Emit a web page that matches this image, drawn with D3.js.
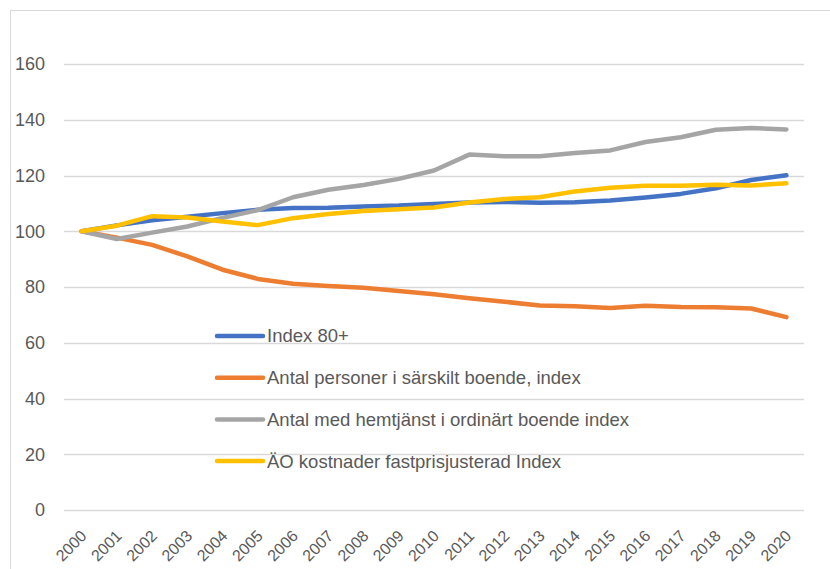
<!DOCTYPE html>
<html>
<head>
<meta charset="utf-8">
<script src="https://cdn.jsdelivr.net/npm/d3@7"></script>
<style>
  body { margin: 0; background: #fff; }
  text { font-family: "Liberation Sans", Arial, sans-serif; fill: #595959; }
</style>
</head>
<body>
<div id="chart"></div>
<script>
const svgWidth = 830;
const svgHeight = 569;

// Data
const years = ['2000', '2001', '2002', '2003', '2004', '2005', '2006', '2007', '2008', '2009', '2010',
  '2011', '2012', '2013', '2014', '2015', '2016', '2017', '2018', '2019', '2020'];
const index80 = [100, 102.1, 103.9, 105.2, 106.5, 107.7, 108.3, 108.4, 108.9, 109.2, 109.8,
  110.3, 110.5, 110.2, 110.4, 111.0, 112.1, 113.4, 115.4, 118.4, 120.1];
const sarskiltBoende = [100, 97.7, 95.1, 91.0, 86.2, 82.9, 81.2, 80.4, 79.7, 78.6, 77.4,
  76.0, 74.7, 73.4, 73.1, 72.5, 73.3, 72.8, 72.7, 72.3, 69.2];
const hemtjanst = [100, 97.2, 99.5, 101.7, 104.8, 107.6, 112.2, 114.9, 116.6, 118.8, 121.8,
  127.5, 126.9, 126.9, 128.1, 129.0, 132.0, 133.7, 136.4, 137.0, 136.5];
const aoKostnader = [100, 102.0, 105.4, 104.9, 103.5, 102.2, 104.7, 106.2, 107.3, 107.9, 108.5,
  110.3, 111.6, 112.2, 114.3, 115.6, 116.3, 116.3, 116.7, 116.4, 117.2];
const yTicks = [0, 20, 40, 60, 80, 100, 120, 140, 160];

const seriesNames = ['Index 80+', 'Antal personer i särskilt boende, index',
  'Antal med hemtjänst i ordinärt boende index', 'ÄO kostnader fastprisjusterad Index'];
const seriesColors = ['#4472C4', '#ED7D31', '#A5A5A5', '#FFC000'];
const series = [index80, sarskiltBoende, hemtjanst, aoKostnader];

const margin = { top: 64, right: 26, bottom: 59, left: 64 };
const chartWidth = svgWidth - margin.left - margin.right;
const chartHeight = svgHeight - margin.top - margin.bottom;

const svg = d3.select('#chart').append('svg').attr('width', svgWidth).attr('height', svgHeight);

// chart border
svg.append('rect')
  .attr('x', 10.5).attr('y', 10.5)
  .attr('width', svgWidth + 20).attr('height', svgHeight + 20)
  .attr('fill', 'none').attr('stroke', '#d9d9d9').attr('stroke-width', 1);

const g = svg.append('g').attr('transform', `translate(${margin.left},${margin.top})`);

const xScale = d3.scaleBand().domain(years).range([0, chartWidth]);
const yScale = d3.scaleLinear().domain([0, 160]).range([chartHeight, 0]);
const xPos = d => xScale(d) + xScale.bandwidth() / 2;

// gridlines
g.append('g')
  .selectAll('line')
  .data(yTicks)
  .enter()
  .append('line')
  .attr('x1', 0).attr('x2', chartWidth)
  .attr('y1', d => Math.round(yScale(d)) + 0.5)
  .attr('y2', d => Math.round(yScale(d)) + 0.5)
  .attr('stroke', '#d9d9d9')
  .attr('stroke-width', 1.3);

// y axis labels
const yAxis = g.append('g').call(d3.axisLeft(yScale).tickValues(yTicks).tickSize(0).tickPadding(19));
yAxis.select('.domain').remove();
yAxis.selectAll('text').style('font-size', '18px').attr('fill', '#595959')
  .style('font-family', '"Liberation Sans", Arial, sans-serif');

// x axis labels, rotated
const xAxis = g.append('g')
  .attr('transform', `translate(0,${chartHeight})`)
  .call(d3.axisBottom(xScale).tickSize(0));
xAxis.select('.domain').remove();
xAxis.selectAll('text')
  .attr('fill', '#595959')
  .style('font-size', '16px')
  .style('font-family', '"Liberation Sans", Arial, sans-serif')
  .attr('text-anchor', 'end')
  .attr('dy', null)
  .attr('y', 0)
  .attr('transform', 'translate(6,27) rotate(-45)');

// lines
const line = d3.line()
  .x((d, i) => xPos(years[i]))
  .y(d => yScale(d));

g.selectAll('path.series')
  .data(series)
  .enter()
  .append('path')
  .attr('class', 'series')
  .attr('d', line)
  .attr('fill', 'none')
  .attr('stroke', (d, i) => seriesColors[i])
  .attr('stroke-width', 4.5)
  .attr('stroke-linejoin', 'round')
  .attr('stroke-linecap', 'round');

// legend
const legend = svg.append('g').attr('transform', 'translate(217,336)');
const item = legend.selectAll('g')
  .data(seriesNames)
  .enter()
  .append('g')
  .attr('transform', (d, i) => `translate(0,${i * 41.7})`);
item.append('line')
  .attr('x1', 0).attr('x2', 46)
  .attr('stroke', (d, i) => seriesColors[i])
  .attr('stroke-width', 4.5)
  .attr('stroke-linecap', 'round');
item.append('text')
  .attr('x', 50)
  .attr('y', 0)
  .attr('dy', '0.35em')
  .style('font-size', '18.5px')
  .text(d => d);
</script>
</body>
</html>
